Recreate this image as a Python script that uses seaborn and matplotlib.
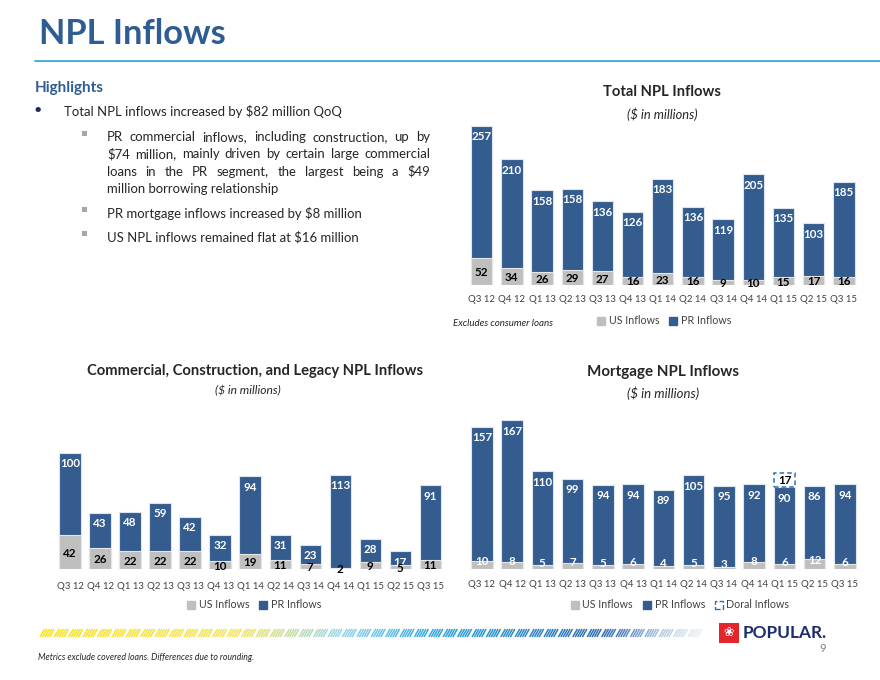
import numpy as np
import pandas as pd
import seaborn as sns
import matplotlib.pyplot as plt
from matplotlib.patches import Patch, Rectangle
from matplotlib.colors import LinearSegmentedColormap

quarters = ['Q3 12', 'Q4 12', 'Q1 13', 'Q2 13', 'Q3 13', 'Q4 13', 'Q1 14',
            'Q2 14', 'Q3 14', 'Q4 14', 'Q1 15', 'Q2 15', 'Q3 15']

# Total NPL inflows
total_us = [52, 34, 26, 29, 27, 16, 23, 16, 9, 10, 15, 17, 16]
total_pr = [257, 210, 158, 158, 136, 126, 183, 136, 119, 205, 135, 103, 185]

# Commercial, construction and legacy
comm_us = [42, 26, 22, 22, 22, 10, 19, 11, 7, 2, 9, 5, 11]
comm_pr = [100, 43, 48, 59, 42, 32, 94, 31, 23, 113, 28, 17, 91]

# Mortgage
mort_us = [10, 8, 5, 7, 5, 6, 4, 5, 3, 8, 6, 12, 6]
mort_pr = [157, 167, 110, 99, 94, 94, 89, 105, 95, 92, 90, 86, 94]
mort_doral = [0, 0, 0, 0, 0, 0, 0, 0, 0, 0, 17, 0, 0]

W, H = 880, 680
BLUE = '#345C8F'
GRAY = '#BFBFBF'
EDGE = '#DCE4EE'
TITLE_BLUE = '#2E5D93'
TXT = '#262626'

sns.set_theme(style='white')
plt.rcParams['font.family'] = ['Lato', 'DejaVu Sans']

fig = plt.figure(figsize=(8.8, 6.8), dpi=100)
fig.canvas.draw()
renderer = fig.canvas.get_renderer()


def box(l, t, r, b):
    return [l / W, 1 - b / H, (r - l) / W, (b - t) / H]


# background axes in pixel coords for slide text
bg = fig.add_axes([0, 0, 1, 1], zorder=0)
bg.set_xlim(0, W)
bg.set_ylim(H, 0)
bg.axis('off')


def put(x, y, s, width=None, size=10, ha='left', **kw):
    t = bg.text(x, y, s, fontsize=size, ha=ha, va='center', **kw)
    if width:
        w = t.get_window_extent(renderer).width
        t.set_fontsize(size * width / w)
    return t


def justify(x0, x1, y, s, size, **kw):
    words = s.split()
    ts = [bg.text(0, y, w, fontsize=size, va='center', **kw) for w in words]
    ws = [t.get_window_extent(renderer).width for t in ts]
    gap = (x1 - x0 - sum(ws)) / (len(words) - 1)
    x = x0
    for t, w in zip(ts, ws):
        t.set_x(x)
        x += w + gap


#### Slide header ####
put(39, 34, 'NPL Inflows', width=187, color=TITLE_BLUE, fontweight='bold')
bg.plot([35, 880], [61, 61], color='#3BA7D6', lw=1.3)

put(35, 88, 'Highlights', width=69, color=TITLE_BLUE, fontweight='bold')
body = put(64, 112, 'Total NPL inflows increased by $82 million QoQ', width=277, color=TXT)
fs = body.get_fontsize()
bg.text(38, 110, '•', fontsize=fs * 1.1, ha='center', va='center', color='#1F2A5C')

para = ['PR commercial inflows, including construction, up by',
        '$74 million, mainly driven by certain large commercial',
        'loans in the PR segment, the largest being a $49']
for k, line in enumerate(para):
    justify(107, 430, 137 + k * 17.3, line, fs, color=TXT)
put(107, 189, 'million borrowing relationship', size=fs, color=TXT)
put(107, 213, 'PR mortgage inflows increased by $8 million', size=fs, color=TXT)
put(107, 237, 'US NPL inflows remained flat at $16 million', size=fs, color=TXT)
for yy in [133, 209, 233]:
    bg.add_patch(Rectangle((82, yy - 2.5), 5, 5, color='#A6A6A6', lw=0))

#### Chart titles ####
put(662, 92, 'Total NPL Inflows', width=118, ha='center', color=TXT, fontweight='bold')
put(662, 114, '($ in millions)', width=71, ha='center', color=TXT, style='italic')
put(255, 371, 'Commercial, Construction, and Legacy NPL Inflows', width=336,
    ha='center', color=TXT, fontweight='bold')
put(248, 391, '($ in millions)', width=66, ha='center', color=TXT, style='italic')
put(663, 372, 'Mortgage NPL Inflows', width=152, ha='center', color=TXT, fontweight='bold')
put(663, 393, '($ in millions)', width=72, ha='center', color=TXT, style='italic')
put(453, 323, 'Excludes consumer loans', width=100, color=TXT, style='italic')


def chart(px, us, pr, ymax, us_white=False, doral=None):
    ax = fig.add_axes(box(*px), zorder=2)
    df = pd.DataFrame({'quarter': quarters, 'us': us, 'pr': pr})
    df['total'] = df['us'] + df['pr']
    sns.barplot(data=df, x='quarter', y='total', color=BLUE, saturation=1,
                width=0.71, edgecolor=EDGE, linewidth=0.8, ax=ax)
    sns.barplot(data=df, x='quarter', y='us', color=GRAY, saturation=1,
                width=0.71, edgecolor='#E6E6E6', linewidth=0.8, ax=ax)

    for i, row in df.iterrows():
        ax.annotate(str(row['pr']), (i, row['total']), xytext=(0, -11),
                    textcoords='offset pixels', ha='center', va='center',
                    color='white', fontweight='bold', fontsize=8.4)
        if us_white:
            ax.annotate(str(row['us']), (i, row['us'] / 2), xytext=(0, 4),
                        textcoords='offset pixels', ha='center', va='center',
                        color='white', fontweight='bold', fontsize=8.4)
        else:
            ax.annotate(str(row['us']), (i, row['us'] / 2), xytext=(0, -1),
                        textcoords='offset pixels', ha='center', va='center',
                        color='black', fontweight='bold', fontsize=8.4)

    if doral is not None:
        tot = df['total'].values
        for i, d in enumerate(doral):
            if d:
                ax.bar(i, d, bottom=tot[i], width=0.71, facecolor='white',
                       edgecolor='#2F6DB3', linestyle=(0, (3, 2)), linewidth=1.1)
                ax.text(i, tot[i] + d / 2, str(d), ha='center', va='center',
                        color='black', fontweight='bold', fontsize=8.4)

    ax.set_xlim(-0.5, 12.5)
    ax.set_ylim(0, ymax)
    ax.set(xlabel='', ylabel='', yticks=[])
    sns.despine(ax=ax, left=True, bottom=True)
    ax.tick_params(axis='x', length=0, pad=7, labelsize=6.9, labelcolor='#404040')
    ax.patch.set_alpha(0)
    return ax


leg_us = Patch(facecolor=GRAY, edgecolor=GRAY, label='US Inflows')
leg_pr = Patch(facecolor=BLUE, edgecolor=BLUE, label='PR Inflows')
leg_doral = Patch(facecolor='white', edgecolor='#2F6DB3', linestyle='--', label='Doral Inflows')


def legend(handles, x, y):
    fig.legend(handles=handles, loc='center', bbox_to_anchor=(x / W, 1 - y / H),
               ncol=len(handles), frameon=False, fontsize=7.7, handlelength=0.75,
               handleheight=0.75, handletextpad=0.35, columnspacing=0.9,
               labelcolor='#404040', borderpad=0)


ax1 = chart((466.6, 120.3, 858.9, 285), total_us, total_pr, 320)
legend([leg_us, leg_pr], 664, 321)

ax2 = chart((55, 446, 445.3, 569.3), comm_us, comm_pr, 150)
ax2.tick_params(axis='x', pad=9)
legend([leg_us, leg_pr], 254, 605)

ax3 = chart((466.7, 411.5, 860.1, 569.3), mort_us, mort_pr, 185, us_white=True,
            doral=mort_doral)
ax3.tick_params(axis='x', pad=8)
legend([leg_us, leg_pr, leg_doral], 680, 605)

#### Footer stripe ####
cmap = LinearSegmentedColormap.from_list('stripe', [
    (0.0, '#F5E31C'), (0.3, '#F2E55E'), (0.45, '#9AD6EC'),
    (0.6, '#2DA6DC'), (0.85, '#2E6DB4'), (1.0, '#D3DDE9')])
x0, x1 = 40, 700
for k, xs in enumerate(np.arange(x0, x1, 2.4)):
    if k % 6 == 5:
        continue
    f = (xs - x0) / (x1 - x0)
    alpha = 1.0 if f < 0.88 else max(0.3, 1 - (f - 0.88) * 5)
    bg.plot([xs, xs + 4.5], [637, 629], color=cmap(f), lw=1.1, alpha=alpha,
            solid_capstyle='butt')

bg.add_patch(Rectangle((719, 623), 20, 20, facecolor='#E3262B', edgecolor='none'))
bg.text(729, 633, '❀', fontsize=9, color='white', ha='center', va='center',
        family=['DejaVu Sans'])
put(743, 633, 'POPULAR.', width=84, color='#1C2C6E', fontweight='bold')
bg.text(823, 649, '9', fontsize=8, color='#808080', ha='center', va='center')
put(38, 657, 'Metrics exclude covered loans. Differences due to rounding.', width=215,
    color=TXT, style='italic')

fig.savefig('out.png', dpi=100)
